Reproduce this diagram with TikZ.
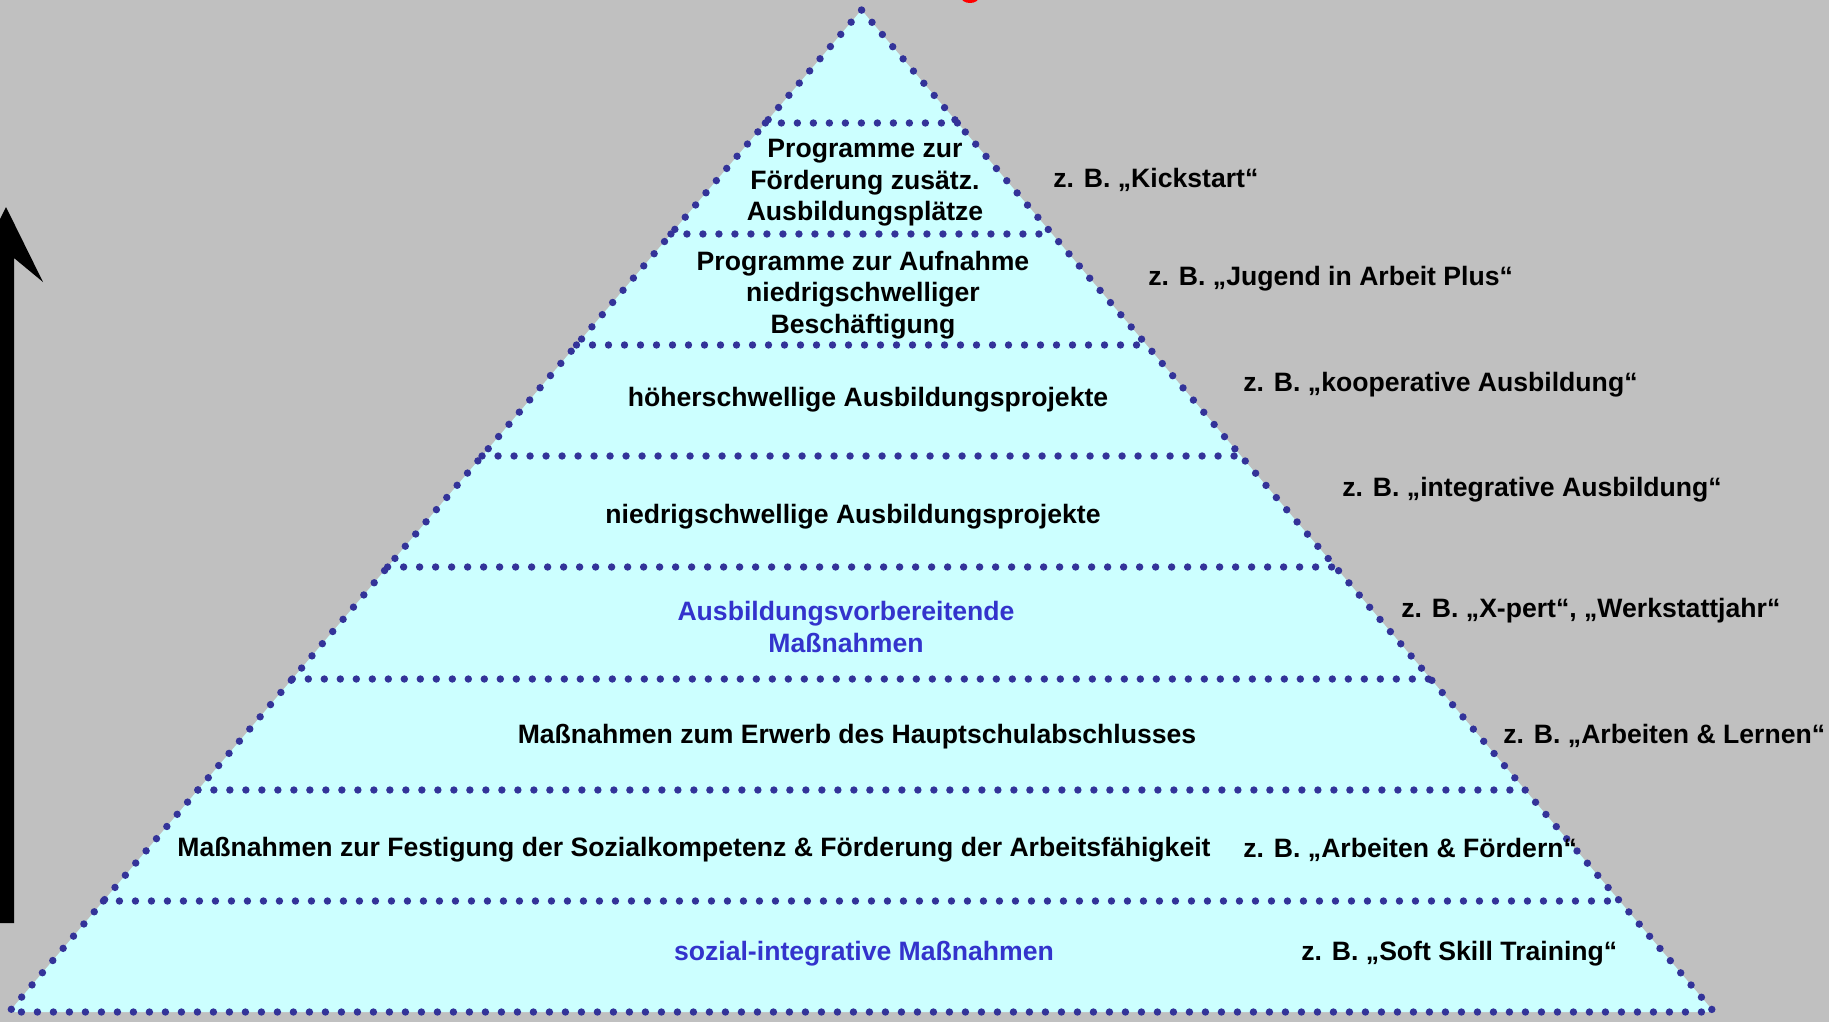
\documentclass[tikz,border=0pt]{standalone}
\usepackage{fontspec}
\setmainfont{Liberation Sans}
\usetikzlibrary{calc}
\definecolor{bg}{HTML}{C0C0C0}
\definecolor{pyr}{HTML}{CCFFFF}
\definecolor{dotc}{HTML}{333399}
\definecolor{bluet}{HTML}{3333CC}
\begin{document}
\begin{tikzpicture}[x=0.5pt,y=-0.5pt,
  lbl/.style={font=\bfseries\fontsize{13.3}{15.75}\selectfont, align=center, inner sep=0pt},
  ex/.style={lbl, anchor=west},
  bl/.style={lbl, text=bluet},
  dotline/.style={draw=dotc, line width=3.7pt, line cap=round, dash pattern=on 0pt off 8pt}]
\useasboundingbox (0,0) rectangle (1829,1022);
\clip (0,0) rectangle (1829,1022);
\fill[bg] (0,0) rectangle (1829,1022);
\coordinate (T) at (861.5,10);
\coordinate (BL) at (9,1012);
\coordinate (BR) at (1714,1012);
\fill[pyr] (T) -- (BL) -- (BR) -- cycle;
\foreach \yy in {123,234,345,456,567,679,790,901} {
  \draw[dotline] ($(T)!{(\yy-10)/1002}!(BL)$) -- ($(T)!{(\yy-10)/1002}!(BR)$);
}
\draw[dotline] (T) -- (BL) -- (BR) -- cycle;
% red fragment of cut-off title
\fill[red] (970,-3) ellipse [x radius=9, y radius=6];
% upward arrow
\fill[black] (6,207) -- (43,282) -- (14,258) -- (14,923) -- (-2,923) -- (-2,258) -- (-31,282) -- cycle;
% level labels
\node[lbl] (l1) at (865,183) {Programme zur\\Förderung zusätz.\\Ausbildungsplätze};
\node[lbl] (l2) at (863,295) {Programme zur Aufnahme\\niedrigschwelliger\\Beschäftigung};
\node[lbl] (l3) at (868,400) {höherschwellige Ausbildungsprojekte};
\node[lbl] (l4) at (853,517) {niedrigschwellige Ausbildungsprojekte};
\node[bl] (l5) at (846,627) {Ausbildungsvorbereitende\\Maßnahmen};
\node[lbl] (l6) at (857,737) {Maßnahmen zum Erwerb des Hauptschulabschlusses};
\node[lbl] (l7) at (694,850) {Maßnahmen zur Festigung der Sozialkompetenz \& Förderung der Arbeitsfähigkeit};
\node[bl] (l8) at (864,954) {sozial-integrative Maßnahmen};
% examples
\node[ex] (e1) at (1053,180) {z. B. „Kickstart“};
\node[ex] (e2) at (1148,279) {z. B. „Jugend in Arbeit Plus“};
\node[ex] (e3) at (1243,385) {z. B. „kooperative Ausbildung“};
\node[ex] (e4) at (1342,490) {z. B. „integrative Ausbildung“};
\node[ex] (e5) at (1401,611) {z. B. „X-pert“, „Werkstattjahr“};
\node[ex] (e6) at (1503,736) {z. B. „Arbeiten \& Lernen“};
\node[ex] (e7) at (1243,850) {z. B. „Arbeiten \& Fördern“};
\node[ex] (e8) at (1301,954) {z. B. „Soft Skill Training“};
\end{tikzpicture}
\end{document}
